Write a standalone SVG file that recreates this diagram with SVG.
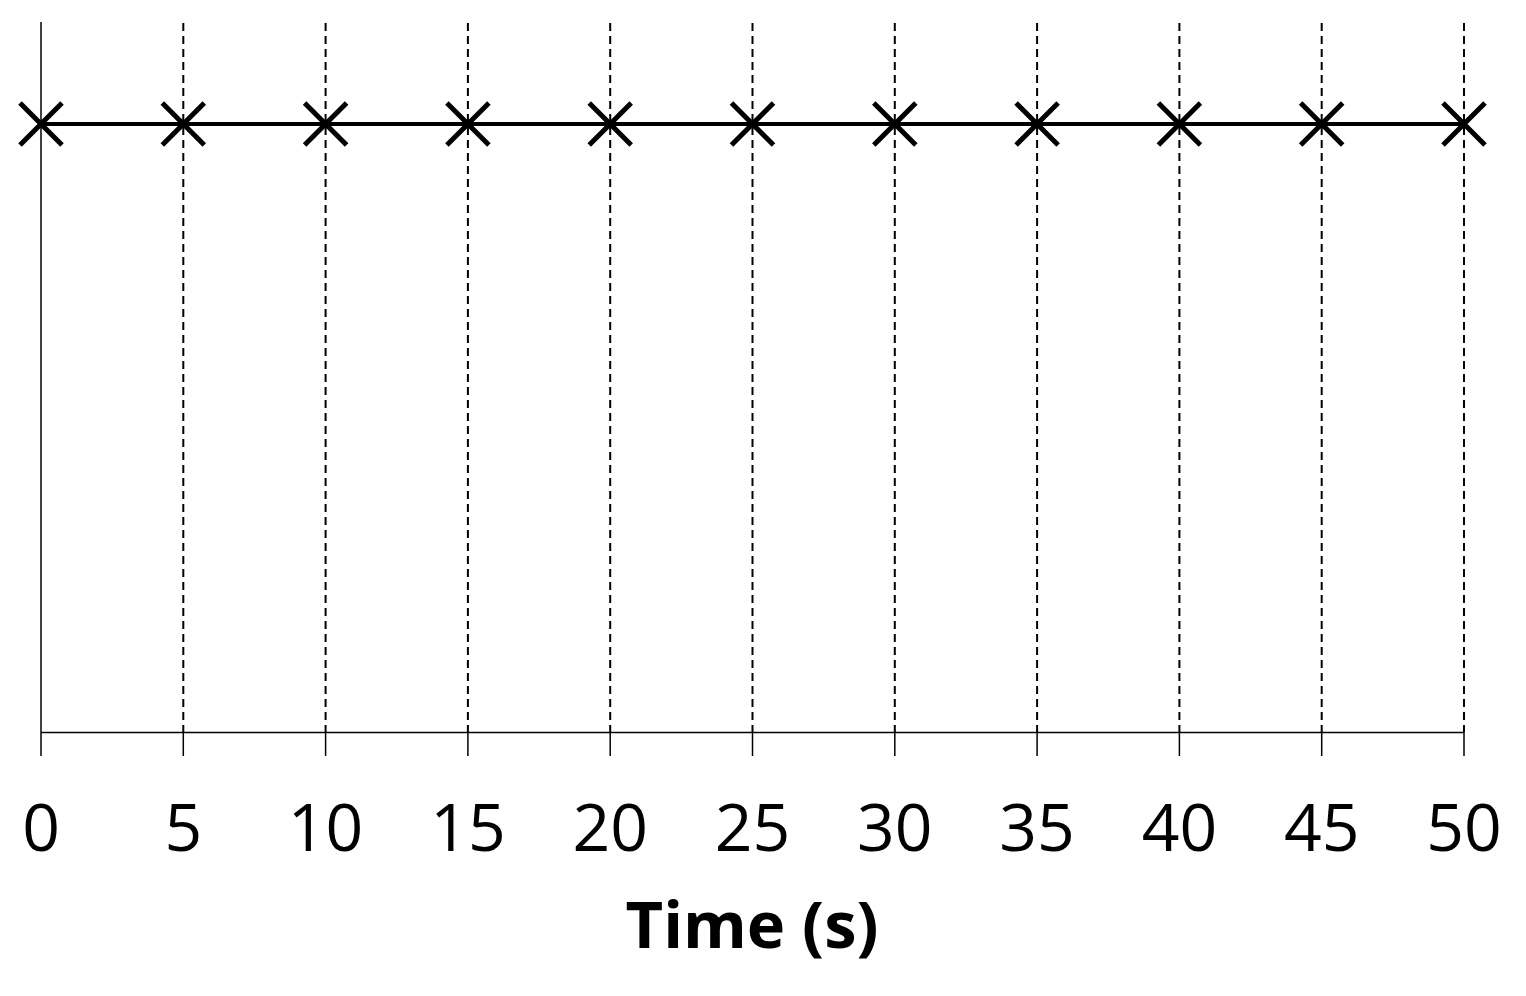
<svg xmlns="http://www.w3.org/2000/svg" width="1526" height="996" viewBox="0 0 1526 996">
<style>
.grid{stroke:#000;stroke-width:2;stroke-dasharray:8 5;fill:none}
.axis{stroke:#000;stroke-width:1.5;fill:none}
.series{stroke:#000;stroke-width:4;fill:none}
.mk{stroke:#000;stroke-width:5;fill:none}
.lbl{font-family:"Open Sans","Liberation Sans",sans-serif;font-size:66px;fill:#000;text-anchor:middle}
.title{font-family:"Open Sans","Liberation Sans",sans-serif;font-size:65px;font-weight:bold;fill:#000;text-anchor:middle}
</style>
<defs>
<path id="x" class="mk" d="M-21,-21 L21,21 M-21,21 L21,-21"/>
</defs>
<rect width="1526" height="996" fill="#fff"/>
<g id="gridlines">
<line class="grid" x1="183.3" y1="23" x2="183.3" y2="732"/>
<line class="grid" x1="325.6" y1="23" x2="325.6" y2="732"/>
<line class="grid" x1="467.9" y1="23" x2="467.9" y2="732"/>
<line class="grid" x1="610.2" y1="23" x2="610.2" y2="732"/>
<line class="grid" x1="752.5" y1="23" x2="752.5" y2="732"/>
<line class="grid" x1="894.8" y1="23" x2="894.8" y2="732"/>
<line class="grid" x1="1037.1" y1="23" x2="1037.1" y2="732"/>
<line class="grid" x1="1179.4" y1="23" x2="1179.4" y2="732"/>
<line class="grid" x1="1321.7" y1="23" x2="1321.7" y2="732"/>
<line class="grid" x1="1464" y1="23" x2="1464" y2="732"/>
</g>
<g id="axes">
<line class="axis" x1="41" y1="22" x2="41" y2="756"/>
<line class="axis" x1="41" y1="732.5" x2="1464" y2="732.5"/>
<line class="axis" x1="183.3" y1="732" x2="183.3" y2="756"/>
<line class="axis" x1="325.6" y1="732" x2="325.6" y2="756"/>
<line class="axis" x1="467.9" y1="732" x2="467.9" y2="756"/>
<line class="axis" x1="610.2" y1="732" x2="610.2" y2="756"/>
<line class="axis" x1="752.5" y1="732" x2="752.5" y2="756"/>
<line class="axis" x1="894.8" y1="732" x2="894.8" y2="756"/>
<line class="axis" x1="1037.1" y1="732" x2="1037.1" y2="756"/>
<line class="axis" x1="1179.4" y1="732" x2="1179.4" y2="756"/>
<line class="axis" x1="1321.7" y1="732" x2="1321.7" y2="756"/>
<line class="axis" x1="1464" y1="732" x2="1464" y2="756"/>
</g>
<g id="series">
<line class="series" x1="41" y1="124" x2="1464" y2="124"/>
<use href="#x" x="41" y="124"/>
<use href="#x" x="183.3" y="124"/>
<use href="#x" x="325.6" y="124"/>
<use href="#x" x="467.9" y="124"/>
<use href="#x" x="610.2" y="124"/>
<use href="#x" x="752.5" y="124"/>
<use href="#x" x="894.8" y="124"/>
<use href="#x" x="1037.1" y="124"/>
<use href="#x" x="1179.4" y="124"/>
<use href="#x" x="1321.7" y="124"/>
<use href="#x" x="1464" y="124"/>
</g>
<g id="labels">
<text class="lbl" x="41" y="851">0</text>
<text class="lbl" x="183.3" y="851">5</text>
<text class="lbl" x="325.6" y="851">10</text>
<text class="lbl" x="467.9" y="851">15</text>
<text class="lbl" x="610.2" y="851">20</text>
<text class="lbl" x="752.5" y="851">25</text>
<text class="lbl" x="894.8" y="851">30</text>
<text class="lbl" x="1037.1" y="851">35</text>
<text class="lbl" x="1179.4" y="851">40</text>
<text class="lbl" x="1321.7" y="851">45</text>
<text class="lbl" x="1464" y="851">50</text>
<text class="title" x="752" y="948">Time (s)</text>
</g>
</svg>
